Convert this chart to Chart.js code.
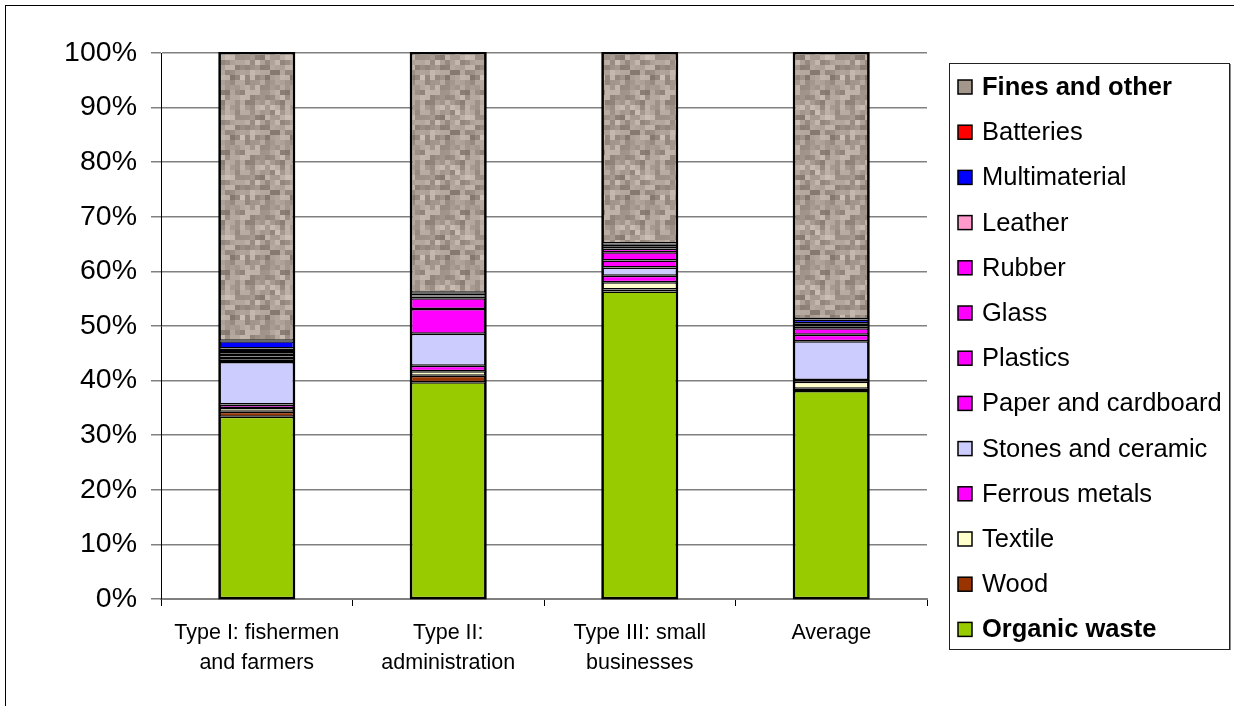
<!DOCTYPE html>
<html>
<head>
<meta charset="utf-8">
<script src="https://cdn.jsdelivr.net/npm/chart.js@4.4.1/dist/chart.umd.min.js"></script>
<style>
  html, body { margin: 0; padding: 0; background: #fff; }
  body { width: 1234px; height: 706px; overflow: hidden; position: relative; }
  #frame { position: absolute; left: 5px; top: 5px; width: 1260px; height: 740px; border: 1px solid #000; box-sizing: border-box; }
  #wrap { position: absolute; left: 0; top: 0; width: 1234px; height: 706px; }
</style>
</head>
<body>
<div id="frame"></div>
<div id="wrap"><canvas id="c" width="1234" height="706"></canvas></div>
<script>
// Waste composition by household type (% of total weight)
const categories = [
  ["Type I: fishermen", "and farmers"],
  ["Type II:", "administration"],
  ["Type III: small", "businesses"],
  ["Average"]
];
const yTicks = [0, 10, 20, 30, 40, 50, 60, 70, 80, 90, 100];

const organicWaste  = [33.4, 39.7, 56.3, 38.1];
const wood          = [0.9, 1.2, 0.4, 0.4];
const textile       = [0.7, 0.8, 1.3, 1.3];
const ferrousMetals = [0.6, 1.0, 1.2, 0.3];
const stonesCeramic = [7.8, 5.9, 1.5, 7.1];
const paperCardboard= [0.5, 4.5, 1.3, 1.2];
const plastics      = [0.5, 2.0, 1.5, 1.2];
const glass         = [0.5, 0.3, 0.7, 0.3];
const rubber        = [0.5, 0.2, 0.1, 0.3];
const leather       = [0.5, 0.1, 0.2, 0.3];
const multimaterial = [1.3, 0.3, 0.4, 0.7];
const batteries     = [0.1, 0.1, 0.2, 0.1];
const finesOther    = [52.7, 43.9, 34.9, 48.7];

// grainy taupe tile for the "Fines and other" fill
function makeGrain() {
  const cell = 5, n = 12;
  const t = document.createElement('canvas');
  t.width = t.height = cell * n;
  const g = t.getContext('2d');
  let s = 12345;
  const next = () => { s = (s * 1103515245 + 12345) & 0x7fffffff; return s / 0x7fffffff; };
  for (let i = 0; i < n; i++) {
    for (let j = 0; j < n; j++) {
      const d = Math.round((next() - 0.5) * 70);
      const r = 168 + d, gg = 156 + d, b = 146 + d;
      g.fillStyle = `rgb(${r},${gg},${b})`;
      g.fillRect(i * cell, j * cell, cell, cell);
    }
  }
  return g.createPattern(t, 'repeat');
}
const ctx = document.getElementById('c').getContext('2d');
const grain = makeGrain();

const series = [
  { label: 'Organic waste', data: organicWaste, color: '#99cc00', bold: true },
  { label: 'Wood', data: wood, color: '#993300' },
  { label: 'Textile', data: textile, color: '#ffffcc' },
  { label: 'Ferrous metals', data: ferrousMetals, color: '#ff00ff' },
  { label: 'Stones and ceramic', data: stonesCeramic, color: '#ccccff' },
  { label: 'Paper and cardboard', data: paperCardboard, color: '#ff00ff' },
  { label: 'Plastics', data: plastics, color: '#ff00ff' },
  { label: 'Glass', data: glass, color: '#ff00ff' },
  { label: 'Rubber', data: rubber, color: '#ff00ff' },
  { label: 'Leather', data: leather, color: '#ff99cc' },
  { label: 'Multimaterial', data: multimaterial, color: '#0000ff' },
  { label: 'Batteries', data: batteries, color: '#ff0000' },
  { label: 'Fines and other', data: finesOther, color: grain, swatch: '#a3978c', bold: true }
];

const FONT = "'Liberation Sans', Arial, sans-serif";

// heavier outline around each whole stacked column
const stackOutline = {
  id: 'stackOutline',
  afterDatasetsDraw(chart) {
    const c = chart.ctx;
    const n = chart.data.datasets.length;
    const first = chart.getDatasetMeta(0).data;
    const last = chart.getDatasetMeta(n - 1).data;
    c.save();
    c.strokeStyle = '#000';
    c.lineWidth = 2;
    first.forEach((el, i) => {
      const w = el.width;
      const left = el.x - w / 2, bottom = el.base, top = last[i].y;
      c.strokeRect(left, top, w, bottom - top);
    });
    c.restore();
  }
};

// boxed legend on the right, top entry = last stacked series
const boxLegend = {
  id: 'boxLegend',
  afterDraw(chart) {
    const c = chart.ctx;
    const x0 = 949, y0 = 63, x1 = 1229, y1 = 649;
    c.save();
    c.strokeStyle = '#222';
    c.lineWidth = 1;
    c.strokeRect(x0 + 0.5, y0 + 0.5, x1 - x0, y1 - y0);
    c.strokeStyle = '#888';
    c.beginPath(); c.moveTo(x1 + 1.5, y0 + 1); c.lineTo(x1 + 1.5, y1 + 1); c.stroke();
    const ds = chart.data.datasets;
    const step = 45.2;
    c.textBaseline = 'middle';
    for (let k = 0; k < ds.length; k++) {
      const d = ds[ds.length - 1 - k];
      const cy = 87 + k * step;
      c.fillStyle = d.swatch || d.backgroundColor;
      c.fillRect(958, cy - 7, 14, 14);
      c.strokeStyle = '#000';
      c.lineWidth = 1.5;
      c.strokeRect(958, cy - 7, 14, 14);
      c.fillStyle = '#000';
      c.font = (d.bold ? 'bold ' : '') + '25.5px ' + FONT;
      c.fillText(d.label, 982, cy + 1);
    }
    c.restore();
  }
};

new Chart(ctx, {
  type: 'bar',
  data: {
    labels: categories,
    datasets: series.map(s => ({
      label: s.label,
      data: s.data,
      backgroundColor: s.color,
      swatch: s.swatch,
      bold: !!s.bold,
      borderColor: '#000',
      borderWidth: 1.5,
      borderSkipped: false,
      categoryPercentage: 1,
      barPercentage: 0.39
    }))
  },
  options: {
    responsive: false,
    animation: false,
    devicePixelRatio: 1,
    layout: { padding: { left: 0, top: 53, right: 307, bottom: 0 } },
    plugins: { legend: { display: false }, tooltip: { enabled: false } },
    scales: {
      x: {
        stacked: true,
        afterFit(scale) { scale.height = 107; },
        grid: { display: true, drawOnChartArea: false, drawTicks: true, tickLength: 7, color: '#000', lineWidth: 1, offset: true },
        border: { display: true, color: '#808080', width: 2 },
        ticks: { color: '#000', padding: 12, font: { family: FONT, size: 21.5, lineHeight: 1.4 }, maxRotation: 0, autoSkip: false }
      },
      y: {
        stacked: true,
        min: 0,
        max: 100,
        afterFit(scale) { scale.width = 161; },
        afterBuildTicks(scale) { scale.ticks = yTicks.map(v => ({ value: v })); },
        grid: { color: '#808080', lineWidth: 1.5, tickLength: 10 },
        border: { display: true, color: '#000', width: 1 },
        ticks: { color: '#000', padding: 14, font: { family: FONT, size: 28.5 }, callback: v => v + '%' }
      }
    }
  },
  plugins: [stackOutline, boxLegend]
});
</script>
</body>
</html>
